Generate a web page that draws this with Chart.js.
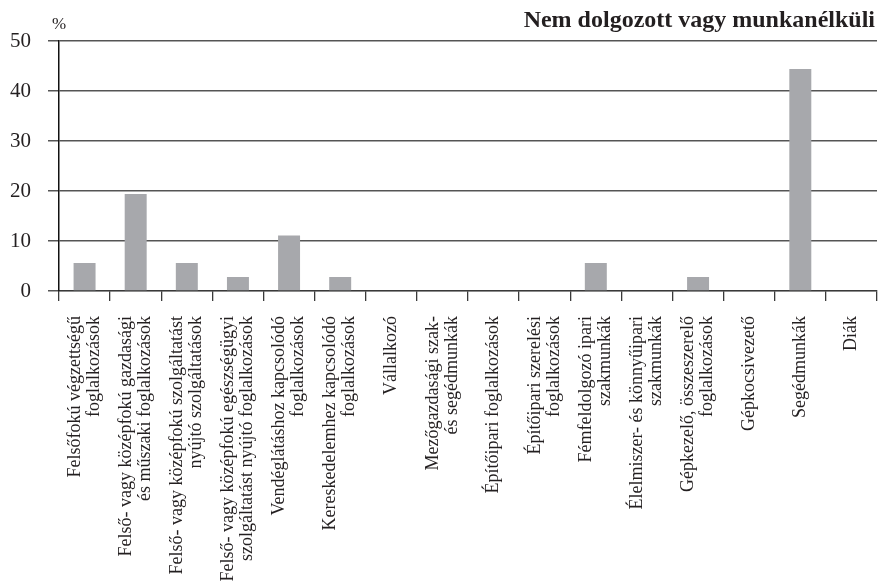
<!DOCTYPE html>
<html>
<head>
<meta charset="utf-8">
<script src="https://cdn.jsdelivr.net/npm/chart.js@4/dist/chart.umd.min.js"></script>
<style>
  html, body { margin: 0; padding: 0; background: #fff; }
  canvas { display: block; }
</style>
</head>
<body>
<canvas id="chart" width="879" height="583"></canvas>
<script>
// categories (each entry = lines of the rotated label)
const categories = [
  ["Felsőfokú végzettségű", "foglalkozások"],
  ["Felső- vagy középfokú gazdasági", "és műszaki foglalkozások"],
  ["Felső- vagy középfokú szolgáltatást", "nyújtó szolgáltatások"],
  ["Felső- vagy középfokú egészségügyi", "szolgáltatást nyújtó foglalkozások"],
  ["Vendéglátáshoz kapcsolódó", "foglalkozások"],
  ["Kereskedelemhez kapcsolódó", "foglalkozások"],
  ["Vállalkozó"],
  ["Mezőgazdasági szak-", "és segédmunkák"],
  ["Építőipari foglalkozások"],
  ["Építőipari szerelési", "foglalkozások"],
  ["Fémfeldolgozó ipari", "szakmunkák"],
  ["Élelmiszer- és könnyűipari", "szakmunkák"],
  ["Gépkezelő, összeszerelő", "foglalkozások"],
  ["Gépkocsivezető"],
  ["Segédmunkák"],
  ["Diák"]
];
const values = [5.6, 19.4, 5.6, 2.8, 11.1, 2.8, 0, 0, 0, 0, 5.6, 0, 2.8, 0, 44.4, 0];
const yMin = 0, yMax = 50, yStep = 10;
const titleText = "Nem dolgozott vagy munkanélküli";
const unitText = "%";

const SERIF = "'Liberation Serif', 'Times New Roman', serif";
const INK = "#231f20";

// =====================
// TEXT PLUGIN (title, unit, rotated category labels)
// =====================
const textPlugin = {
  id: "textPlugin",
  afterDraw(chart) {
    const ctx = chart.ctx;
    const xs = chart.scales.x;
    ctx.save();
    ctx.fillStyle = INK;

    // title top right
    ctx.font = "bold 24px " + SERIF;
    ctx.textAlign = "right";
    ctx.textBaseline = "alphabetic";
    ctx.fillText(titleText, 875, 27);

    // unit
    ctx.font = "17px " + SERIF;
    ctx.textAlign = "left";
    ctx.fillText(unitText, 52, 29);

    // category labels, rotated, top aligned under the axis
    ctx.font = "18px " + SERIF;
    const lh = 19;
    categories.forEach((lines, i) => {
      const cx = xs.getPixelForValue(i);
      lines.forEach((ln, j) => {
        const x = cx + (j - (lines.length - 1) / 2) * lh;
        ctx.save();
        ctx.translate(x, 316);
        ctx.rotate(-Math.PI / 2);
        ctx.textAlign = "right";
        ctx.textBaseline = "middle";
        ctx.fillText(ln, 0, 0);
        ctx.restore();
      });
    });
    ctx.restore();
  }
};

new Chart(document.getElementById("chart"), {
  type: "bar",
  data: {
    labels: categories.map(c => c.join(" ")),
    datasets: [{
      data: values,
      backgroundColor: "#a7a8ac",
      borderWidth: 0,
      barPercentage: 0.43,
      categoryPercentage: 1.0
    }]
  },
  options: {
    responsive: false,
    devicePixelRatio: 1,
    animation: false,
    layout: { padding: { top: 41, right: 2, left: 0, bottom: 0 } },
    plugins: {
      legend: { display: false },
      tooltip: { enabled: false },
      title: { display: false }
    },
    scales: {
      x: {
        offset: true,
        grid: {
          offset: true,
          drawOnChartArea: false,
          drawTicks: true,
          tickLength: 10,
          color: "#3a3a3a",
          lineWidth: 1.3
        },
        border: { display: true, color: "#3a3a3a", width: 1.3 },
        ticks: { display: false },
        afterFit(scale) { scale.height = 583 - 291; }
      },
      y: {
        min: yMin,
        max: yMax,
        ticks: {
          stepSize: yStep,
          padding: 17,
          color: INK,
          font: { family: SERIF, size: 21 }
        },
        grid: {
          drawTicks: true,
          tickLength: 11,
          color: "#555555",
          lineWidth: 1.5
        },
        border: { display: true, color: "#111111", width: 1.5 },
        afterFit(scale) { scale.width = 59; }
      }
    }
  },
  plugins: [textPlugin]
});
</script>
</body>
</html>
